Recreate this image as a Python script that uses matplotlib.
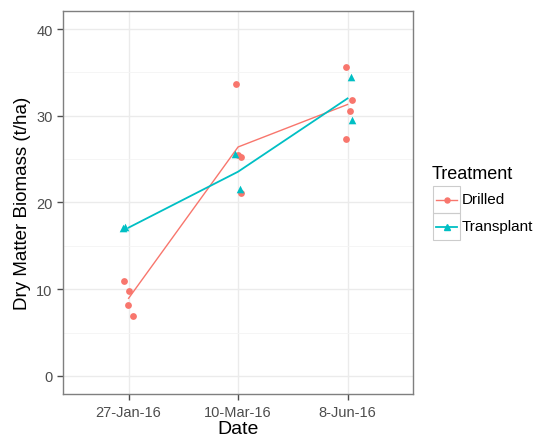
import matplotlib
matplotlib.use("Agg")
import matplotlib.pyplot as plt
from matplotlib.lines import Line2D
from matplotlib.patches import Rectangle
import numpy as np

plt.rcParams['font.family'] = ['Liberation Sans', 'DejaVu Sans']

dates = ["27-Jan-16", "10-Mar-16", "8-Jun-16"]
treatments = ["Drilled", "Transplant"]

# individual plot values (date index, jitter, biomass)
drilled_idx = [0, 0, 0, 0, 1, 1, 1, 1, 2, 2, 2, 2]
drilled_jit = [-0.04, 0.0, -0.01, 0.04, -0.02, 0.0, 0.03, 0.03, -0.01, 0.04, 0.02, -0.01]
drilled_val = [10.9, 9.8, 8.2, 6.9, 33.7, 25.5, 25.3, 21.1, 35.6, 31.8, 30.5, 27.3]

trans_idx = [0, 0, 1, 1, 2, 2]
trans_jit = [-0.05, -0.03, -0.03, 0.02, 0.03, 0.04]
trans_val = [17.0, 17.2, 25.6, 21.5, 34.5, 29.5]

red = "#F8766D"
cyan = "#00BFC4"

W, H = 538, 439
fig = plt.figure(figsize=(W / 100, H / 100), dpi=100)
ax = fig.add_axes([0.117, 0.100, 0.651, 0.873])

def means(idx, val):
    idx = np.array(idx); val = np.array(val)
    return [val[idx == i].mean() for i in range(len(dates))]

xs = np.arange(1, len(dates) + 1)
ax.plot(xs, means(drilled_idx, drilled_val), color=red, lw=1.0, zorder=3)
ax.plot(xs, means(trans_idx, trans_val), color=cyan, lw=1.3, zorder=3)
ax.scatter(np.array(drilled_idx) + 1 + np.array(drilled_jit), drilled_val,
           color=red, s=24, marker='o', linewidths=0, zorder=4)
ax.scatter(np.array(trans_idx) + 1 + np.array(trans_jit), trans_val,
           color=cyan, s=30, marker='^', linewidths=0, zorder=4)

ax.set_xlim(0.4, 3.6)
ax.set_ylim(-2.1, 42.1)
ax.set_xticks(xs)
ax.set_xticklabels(dates)
ax.set_yticks([0, 10, 20, 30, 40])
ax.set_yticks([5, 15, 25, 35], minor=True)
ax.grid(True, which='major', color="#EBEBEB", lw=1.0)
ax.grid(True, which='minor', axis='y', color="#F4F4F4", lw=0.6)
ax.set_axisbelow(True)
for s in ax.spines.values():
    s.set_color("#7F7F7F")
    s.set_linewidth(1.0)
ax.tick_params(which='major', colors="#4D4D4D", labelsize=10.5, length=4, width=1)
ax.tick_params(which='minor', length=0)
ax.set_xlabel("Date", fontsize=14, labelpad=1)
ax.set_ylabel("Dry Matter Biomass (t/ha)", fontsize=13.5, labelpad=4)

# legend drawn ggplot-style: grey-bordered key boxes
fx = lambda px: px / W
fy = lambda py: 1 - py / H
fig.text(fx(432), fy(175), "Treatment", fontsize=13, va='center', ha='left')
styles = [(red, 'o', 3.6, 1.0), (cyan, '^', 4.0, 1.3)]
for i, (lab, (c, m, ms, lw)) in enumerate(zip(treatments, styles)):
    top = 187 + i * 27
    fig.patches.append(Rectangle((fx(433), fy(top + 27)), fx(27), 27 / H,
                                 transform=fig.transFigure, fill=False,
                                 edgecolor="#CCCCCC", lw=0.8))
    yc = fy(top + 13.5)
    fig.lines.append(Line2D([fx(436), fx(457)], [yc, yc], color=c, lw=lw,
                            transform=fig.transFigure))
    fig.lines.append(Line2D([fx(446.5)], [yc], color=c, marker=m, markersize=ms,
                            lw=0, transform=fig.transFigure))
    fig.text(fx(462), yc, lab, fontsize=11, va='center', ha='left')

fig.savefig("out.png", dpi=100)
